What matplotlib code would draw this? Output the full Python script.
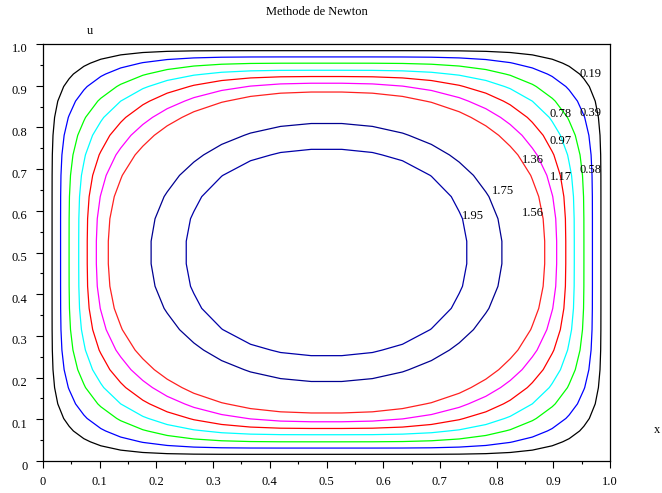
import numpy as np
import matplotlib
matplotlib.use('Agg')
import matplotlib.pyplot as plt
import matplotlib.transforms as mtransforms

plt.rcParams['font.family'] = ['Liberation Serif', 'DejaVu Serif']
plt.rcParams['font.size'] = 9

# niveaux des isolignes
levels = [0.19, 0.39, 0.58, 0.78, 0.97, 1.17, 1.36, 1.56, 1.75, 1.95]
# demi-largeur de chaque isoligne au milieu du carre (distance au centre)
half_width = [0.484, 0.469, 0.454, 0.437, 0.422, 0.406, 0.385, 0.350, 0.310, 0.248]
# distance au centre du coin de chaque isoligne, mesuree sur la diagonale
corner = [0.438, 0.411, 0.385, 0.363, 0.340, 0.316, 0.293, 0.260, 0.226, 0.184]
line_colors = ['black', 'blue', '#00ff00', 'cyan', 'red', 'magenta', '#ff2020', None, '#000090', '#0000a8']
tick_labels = ['0', '0.1', '0.2', '0.3', '0.4', '0.5', '0.6', '0.7', '0.8', '0.9', '1.0']

# noeuds du maillage (moitie gauche, points de Chebyshev)
nodes_half = [0.0, 0.003, 0.012, 0.026, 0.046, 0.072, 0.102, 0.137,
              0.176, 0.219, 0.266, 0.315, 0.366, 0.419, 0.473]

# position des etiquettes (coin bas gauche du texte)
label_pos = [(0.947, 0.921), (0.947, 0.827), (0.947, 0.691), (0.894, 0.825),
             (0.894, 0.760), (0.894, 0.674), (0.845, 0.715), (0.845, 0.588),
             (0.792, 0.640), (0.739, 0.580)]

nodes = np.array(nodes_half + [1 - v for v in nodes_half[::-1]])
X, Y = np.meshgrid(nodes, nodes)
dx = np.abs(X - 0.5)
dy = np.abs(Y - 0.5)

fig = plt.figure(figsize=(6.62, 4.93), dpi=100)
ax = fig.add_axes([43 / 662, 1 - 461 / 493, 567 / 662, 417 / 493])

for lev, a, t, col in zip(levels, half_width, corner, line_colors):
    if col is None:
        continue
    p = np.log(2) / np.log(a / t)
    norm = (dx ** p + dy ** p) ** (1 / p)
    ax.contour(X, Y, norm, levels=[a], colors=[col], linewidths=0.9)

for lev, (lx, ly) in zip(levels, label_pos):
    ax.text(lx, ly, '%.2f' % lev, ha='left', va='baseline', fontsize=9)

ax.set_xlim(0, 1)
ax.set_ylim(0, 1)
ticks = np.arange(0, 1.01, 0.1)
ax.set_xticks(ticks)
ax.set_yticks(ticks)
ax.set_xticklabels(tick_labels)
ax.set_yticklabels(tick_labels)
ax.set_xticks(np.arange(0.05, 1, 0.1), minor=True)
ax.set_yticks(np.arange(0.05, 1, 0.1), minor=True)
ax.tick_params(which='major', direction='out', length=5, width=0.8, pad=6)
ax.tick_params(which='minor', direction='out', length=2.2, width=0.8)
for s in ax.spines.values():
    s.set_linewidth(0.9)

# etiquettes de l'axe y un peu decalees vers le bas, comme Scilab
shift = mtransforms.ScaledTranslation(0, -4 / 100, fig.dpi_scale_trans)
for lab in ax.get_yticklabels():
    lab.set_transform(lab.get_transform() + shift)

fig.text(0.478, 1 - 12 / 493, 'Methode de Newton', ha='center', va='center')
fig.text(90 / 662, 1 - 31 / 493, 'u', ha='center', va='center')
fig.text(657 / 662, 1 - 430 / 493, 'x', ha='center', va='center')

fig.savefig('out.png', dpi=100)
